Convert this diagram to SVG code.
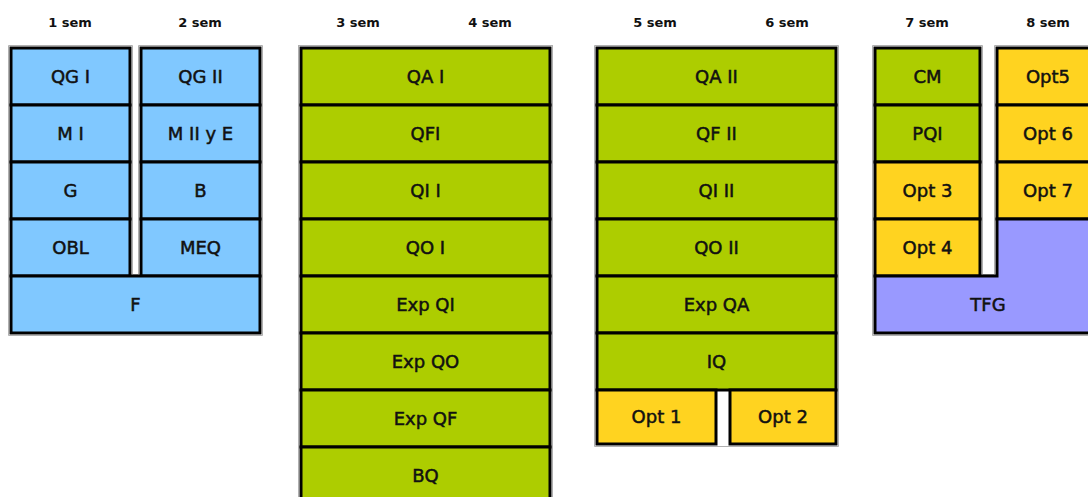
<svg xmlns="http://www.w3.org/2000/svg" width="1088" height="497" viewBox="0 0 1088 497">
<style>
.c{stroke:#000;stroke-width:3}
.b{fill:#80C8FF}.g{fill:#ADCD00}.y{fill:#FFD320}.p{fill:#9999FF}
.o{fill:none;stroke:#B0B0B0;stroke-width:1}
text{font-family:"DejaVu Sans","Liberation Sans",sans-serif;text-anchor:middle;fill:#111}
.h{font-size:13px;font-weight:bold}
.t{font-size:18px;stroke:#111;stroke-width:0.5}
</style>
<rect width="1088" height="497" fill="#fff"/>
<g id="outlines">
<path class="o" d="M8.5,45.5H132.5V274.5H138.5V45.5H262.5V335.5H8.5Z"/>
<rect class="o" x="298.5" y="45.5" width="254" height="460"/>
<path class="o" d="M594.5,45.5H838.5V446.5H594.5Z"/>
<path class="o" d="M872.5,45.5H982.5V274.5H994.5V45.5H1100V335.5H872.5Z"/>
</g>
<g id="headers">
<text class="h" x="70" y="27">1 sem</text>
<text class="h" x="200" y="27">2 sem</text>
<text class="h" x="358" y="27">3 sem</text>
<text class="h" x="490" y="27">4 sem</text>
<text class="h" x="655" y="27">5 sem</text>
<text class="h" x="787" y="27">6 sem</text>
<text class="h" x="927" y="27">7 sem</text>
<text class="h" x="1048" y="27">8 sem</text>
</g>
<g id="QGI"><rect class="c b" x="11" y="48" width="119" height="57"/><text class="t" x="70.5" y="83">QG I</text></g>
<g id="MI"><rect class="c b" x="11" y="105" width="119" height="57"/><text class="t" x="70.5" y="140">M I</text></g>
<g id="G"><rect class="c b" x="11" y="162" width="119" height="57"/><text class="t" x="70.5" y="197">G</text></g>
<g id="OBL"><rect class="c b" x="11" y="219" width="119" height="57"/><text class="t" x="70.5" y="254">OBL</text></g>
<g id="QGII"><rect class="c b" x="141" y="48" width="119" height="57"/><text class="t" x="200.5" y="83">QG II</text></g>
<g id="MIIyE"><rect class="c b" x="141" y="105" width="119" height="57"/><text class="t" x="200.5" y="140">M II y E</text></g>
<g id="B"><rect class="c b" x="141" y="162" width="119" height="57"/><text class="t" x="200.5" y="197">B</text></g>
<g id="MEQ"><rect class="c b" x="141" y="219" width="119" height="57"/><text class="t" x="200.5" y="254">MEQ</text></g>
<g id="F"><rect class="c b" x="11" y="276" width="249" height="57"/><text class="t" x="135.5" y="311">F</text></g>

<g id="QAI"><rect class="c g" x="301" y="48" width="249" height="57"/><text class="t" x="425.5" y="83">QA I</text></g>
<g id="QFI"><rect class="c g" x="301" y="105" width="249" height="57"/><text class="t" x="425.5" y="140">QFI</text></g>
<g id="QII"><rect class="c g" x="301" y="162" width="249" height="57"/><text class="t" x="425.5" y="197">QI I</text></g>
<g id="QOI"><rect class="c g" x="301" y="219" width="249" height="57"/><text class="t" x="425.5" y="254">QO I</text></g>
<g id="ExpQI"><rect class="c g" x="301" y="276" width="249" height="57"/><text class="t" x="425.5" y="311">Exp QI</text></g>
<g id="ExpQO"><rect class="c g" x="301" y="333" width="249" height="57"/><text class="t" x="425.5" y="368">Exp QO</text></g>
<g id="ExpQF"><rect class="c g" x="301" y="390" width="249" height="57"/><text class="t" x="425.5" y="425">Exp QF</text></g>
<g id="BQ"><rect class="c g" x="301" y="447" width="249" height="57"/><text class="t" x="425.5" y="482">BQ</text></g>

<g id="QAII"><rect class="c g" x="597" y="48" width="239" height="57"/><text class="t" x="716.5" y="83">QA II</text></g>
<g id="QFII"><rect class="c g" x="597" y="105" width="239" height="57"/><text class="t" x="716.5" y="140">QF II</text></g>
<g id="QIII"><rect class="c g" x="597" y="162" width="239" height="57"/><text class="t" x="716.5" y="197">QI II</text></g>
<g id="QOII"><rect class="c g" x="597" y="219" width="239" height="57"/><text class="t" x="716.5" y="254">QO II</text></g>
<g id="ExpQA"><rect class="c g" x="597" y="276" width="239" height="57"/><text class="t" x="716.5" y="311">Exp QA</text></g>
<g id="IQ"><rect class="c g" x="597" y="333" width="239" height="57"/><text class="t" x="716.5" y="368">IQ</text></g>
<g id="Opt1"><rect class="c y" x="597" y="390" width="119" height="54"/><text class="t" x="656.5" y="423">Opt 1</text></g>
<g id="Opt2"><rect class="c y" x="730" y="390" width="106" height="54"/><text class="t" x="783" y="423">Opt 2</text></g>

<g id="CM"><rect class="c g" x="875" y="48" width="105" height="57"/><text class="t" x="927.5" y="83">CM</text></g>
<g id="PQI"><rect class="c g" x="875" y="105" width="105" height="57"/><text class="t" x="927.5" y="140">PQI</text></g>
<g id="Opt3"><rect class="c y" x="875" y="162" width="105" height="57"/><text class="t" x="927.5" y="197">Opt 3</text></g>
<g id="Opt4"><rect class="c y" x="875" y="219" width="105" height="57"/><text class="t" x="927.5" y="254">Opt 4</text></g>
<g id="Opt5"><rect class="c y" x="997" y="48" width="110" height="57"/><text class="t" x="1048" y="83">Opt5</text></g>
<g id="Opt6"><rect class="c y" x="997" y="105" width="110" height="57"/><text class="t" x="1048" y="140">Opt 6</text></g>
<g id="Opt7"><rect class="c y" x="997" y="162" width="110" height="57"/><text class="t" x="1048" y="197">Opt 7</text></g>
<g id="TFG"><path class="c p" d="M875,276H997V219H1107V333H875Z"/><text class="t" x="988" y="311">TFG</text></g>
</svg>
